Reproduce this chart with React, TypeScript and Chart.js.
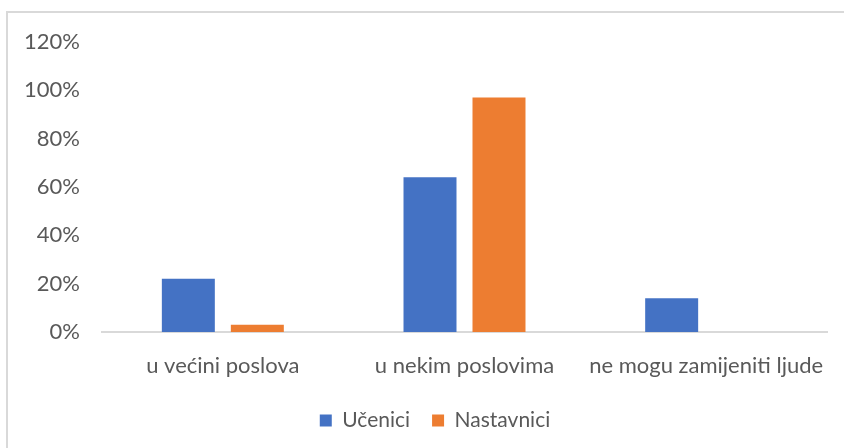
import React, { useEffect, useRef } from "react";
import { Chart, registerables } from "chart.js";

Chart.register(...registerables);

const categories = ["u većini poslova", "u nekim poslovima", "ne mogu zamijeniti ljude"];
const ucenici = [22, 64, 14];
const nastavnici = [3, 97, 0];
const seriesNames = ["Učenici", "Nastavnici"];
const yTicks = [0, 20, 40, 60, 80, 100, 120];

const FONT = "Lato, 'Liberation Sans', sans-serif";
const TEXT = "#595959";

const legendShift = {
  id: "legendShift",
  beforeDraw(chart: any) {
    const lg = chart.legend;
    if (lg) {
      const w = lg.right - lg.left;
      lg.left = 43;
      lg.right = 43 + Math.min(w, 784);
    }
  },
};

export default function App() {
  const ref = useRef<HTMLCanvasElement | null>(null);

  useEffect(() => {
    document.body.style.margin = "0";
    const ctx = ref.current!.getContext("2d")!;
    const chart = new Chart(ctx, {
      type: "bar",
      data: {
        labels: categories,
        datasets: [
          {
            label: seriesNames[0],
            data: ucenici,
            backgroundColor: "#4472C4",
            categoryPercentage: 0.571,
            barPercentage: 0.768,
          },
          {
            label: seriesNames[1],
            data: nastavnici,
            backgroundColor: "#ED7D31",
            categoryPercentage: 0.571,
            barPercentage: 0.768,
          },
        ],
      },
      plugins: [legendShift],
      options: {
        animation: false,
        responsive: false,
        layout: { padding: { left: 0, right: 17, top: 42, bottom: 7 } },
        plugins: {
          tooltip: { enabled: false },
          legend: {
            position: "bottom",
            labels: {
              boxWidth: 12,
              boxHeight: 12,
              padding: 22,
              color: TEXT,
              font: { family: FONT, size: 21 },
            },
          },
        },
        scales: {
          x: {
            grid: { display: false, drawTicks: false },
            border: { display: true, color: "#d9d9d9", width: 2 },
            ticks: {
              color: TEXT,
              padding: 21,
              maxRotation: 0,
              autoSkip: false,
              font: { family: FONT, size: 22 },
            },
            afterFit: (s: any) => {
              s.height = 56;
              s.paddingLeft = 0;
              s.paddingRight = 0;
            },
          },
          y: {
            min: 0,
            max: 120,
            afterBuildTicks: (s: any) => {
              s.ticks = yTicks.map((v) => ({ value: v }));
            },
            grid: { display: false, drawTicks: false },
            border: { display: false },
            ticks: {
              color: TEXT,
              padding: 22,
              font: { family: FONT, size: 22 },
              callback: (v: any) => v + "%",
            },
            afterFit: (s: any) => {
              s.width = 102;
              s.paddingTop = 0;
              s.paddingBottom = 0;
            },
          },
        },
      },
    });
    return () => chart.destroy();
  }, []);

  return (
    <div style={{ position: "fixed", left: 0, top: 0, width: 844, height: 448, overflow: "hidden", background: "#fff" }}>
      <div
        style={{
          position: "absolute",
          left: 6,
          top: 11,
          width: 900,
          height: 500,
          border: "2px solid #d9d9d9",
          boxSizing: "border-box",
        }}
      />
      <canvas ref={ref} width={844} height={448} style={{ position: "absolute", left: 0, top: 0 }} />
    </div>
  );
}
